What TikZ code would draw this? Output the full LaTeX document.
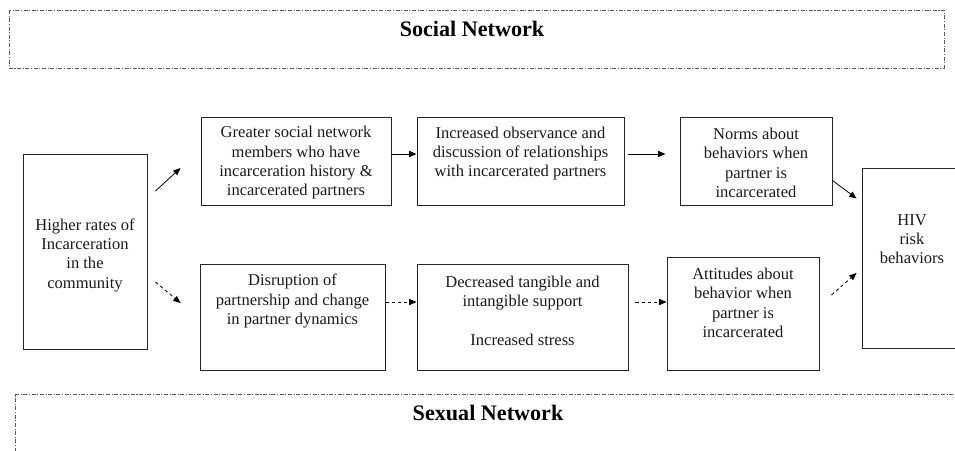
\documentclass[tikz,border=0pt]{standalone}
\usepackage{fontspec}
\setmainfont{Liberation Serif}
\usetikzlibrary{arrows.meta}

\begin{document}
\begin{tikzpicture}[
  x=0.75pt, y=-0.75pt,
  >={Triangle[length=5.5pt, width=4.5pt]},
  box/.style={draw=black!85, line width=0.7pt, inner sep=0pt},
  boxtext/.style={align=center, font=\fontsize{12.4}{14.5}\selectfont, text=black!90},
  title/.style={font=\fontsize{16.6}{20}\selectfont\bfseries},
  network/.style={draw=black!65, line width=0.6pt,
                  dash pattern=on 3pt off 1.2pt on 0.8pt off 1.2pt},
  link/.style={->, line width=0.6pt},
  weak/.style={->, line width=0.6pt, dash pattern=on 2.6pt off 2pt}
]
\clip (0,0) rectangle (955,450);

% ── network frames ──────────────────────────────────────────────────
\draw[network] (9,10) rectangle (944,68);
\node[title] (social) at (472,29) {Social Network};
\draw[network] (15,460) -- (15,394) -- (960,394);
\node[title] (sexual) at (488,413) {Sexual Network};

% ── boxes ───────────────────────────────────────────────────────────
\node[box, minimum width=93pt,     minimum height=146.25pt] (rates)   at (85,251.5)  {};
\node[box, minimum width=142.5pt,  minimum height=66pt]     (members) at (296,161)   {};
\node[box, minimum width=155.25pt, minimum height=66pt]     (observe) at (520.5,161) {};
\node[box, minimum width=114pt,    minimum height=66pt]     (norms)   at (756,161)   {};
\node[box, minimum width=138.75pt, minimum height=79.5pt]   (disrupt) at (292.5,317) {};
\node[box, minimum width=158.25pt, minimum height=79.5pt]   (support) at (522.5,317) {};
\node[box, minimum width=114pt,    minimum height=84.75pt]  (attit)   at (743,313.5) {};
\node[box, minimum width=75pt,     minimum height=135pt]    (hiv)     at (912,258)   {};

% ── box texts ───────────────────────────────────────────────────────
\node[boxtext] (ratesT) at (85,255)
  {Higher rates of\\Incarceration\\in the\\community};
\node[boxtext] (membersT) at (296,163)
  {Greater social network\\members who have\\incarceration history \&\\incarcerated partners};
\node[boxtext] (observeT) at (520.5,153.5)
  {Increased observance and\\discussion of relationships\\with incarcerated partners};
\node[boxtext] (normsT) at (756,163)
  {Norms about\\behaviors when\\partner is\\incarcerated};
\node[boxtext] (disruptT) at (292.5,301)
  {Disruption of\\partnership and change\\in partner dynamics};
\node[boxtext] (supportT) at (522.5,311)
  {Decreased tangible and\\intangible support\\[14.5pt]Increased stress};
\node[boxtext] (attitT) at (743,303)
  {Attitudes about\\behavior when\\partner is\\incarcerated};
\node[boxtext] (hivT) at (912,239)
  {HIV\\risk\\behaviors};

% ── social path (solid) ─────────────────────────────────────────────
\draw[link] ([shift={(8,-60.5)}]rates.east) -- ([shift={(-20,7)}]members.west);
\draw[link] ([shift={(0,-7)}]members.east) -- ([shift={(0,-7)}]observe.west);
\draw[link] ([shift={(4,-7)}]observe.east) -- ([shift={(-14,-7)}]norms.west);
\draw[link] ([shift={(0,-25)}]norms.south east) -- ([shift={(-5,31)}]hiv.north west);

% ── sexual path (dashed) ────────────────────────────────────────────
\draw[weak] ([shift={(8,30.5)}]rates.east) -- ([shift={(-19,-14)}]disrupt.west);
\draw[weak] ([shift={(0,-15)}]disrupt.east) -- ([shift={(0,-15)}]support.west);
\draw[weak] ([shift={(7,-15)}]support.east) -- ([shift={(0,-11.5)}]attit.west);
\draw[weak] ([shift={(12,-18.5)}]attit.east) -- ([shift={(-5,15)}]hiv.west);

\end{tikzpicture}
\end{document}
